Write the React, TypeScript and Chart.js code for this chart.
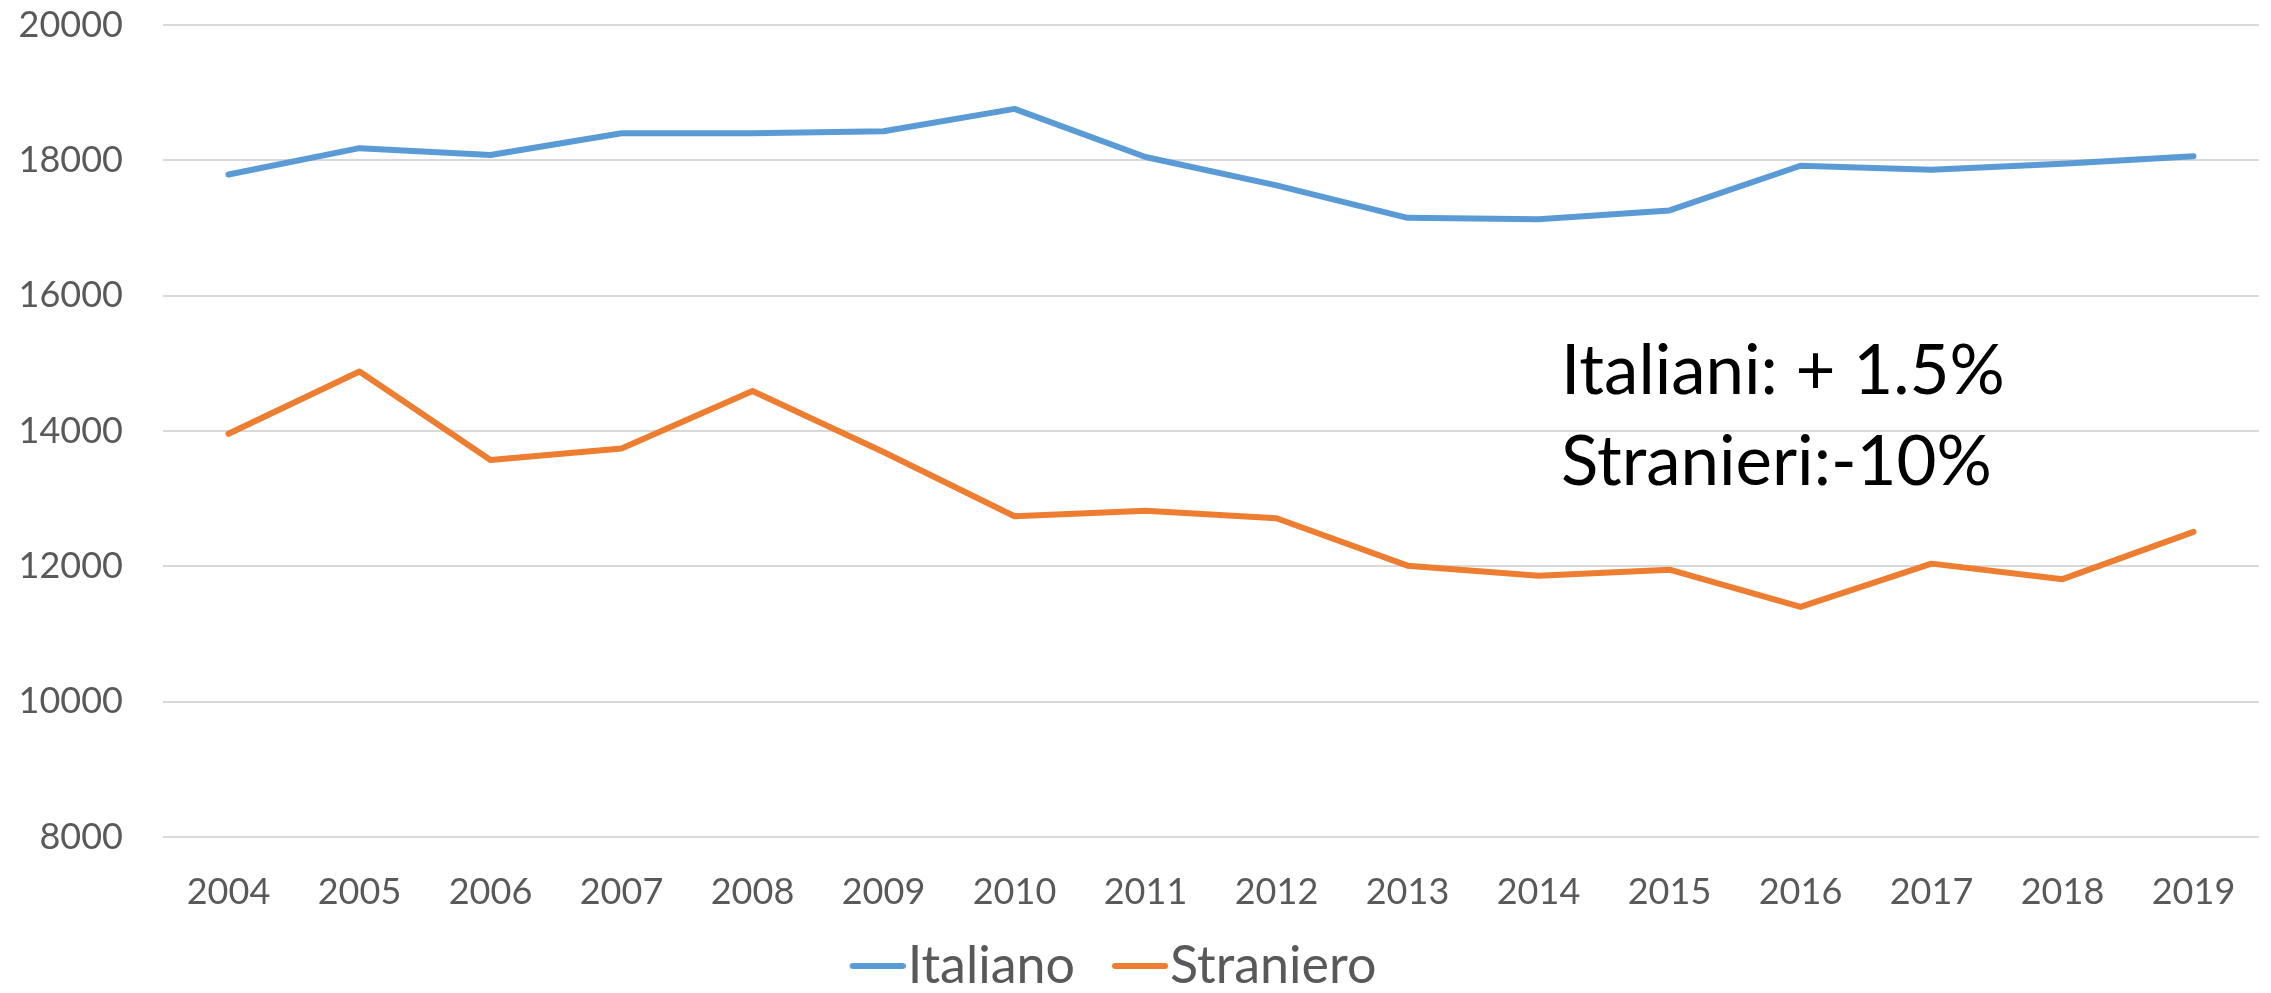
import React, { useEffect, useRef } from "react";
import { Chart, registerables } from "chart.js";

Chart.register(...registerables);

const years = ["2004", "2005", "2006", "2007", "2008", "2009", "2010", "2011", "2012", "2013", "2014", "2015", "2016", "2017", "2018", "2019"];
const italiano = [17790, 18180, 18080, 18400, 18400, 18430, 18760, 18050, 17630, 17150, 17130, 17260, 17920, 17860, 17950, 18060];
const straniero = [13960, 14880, 13570, 13740, 14590, 13690, 12740, 12820, 12710, 12010, 11860, 11950, 11400, 12040, 11810, 12510];
const seriesNames = ["Italiano", "Straniero"];
const seriesColors = ["#5B9BD5", "#ED7D31"];
const annotationLines = ["Italiani: + 1.5%", "Stranieri:-10%"];
const yMin = 8000;
const yMax = 20000;
const yStep = 2000;

const FONT = "Lato, 'Open Sans', sans-serif";

function makeLegendIcon(color: string) {
  const c = document.createElement("canvas");
  c.width = 88;
  c.height = 10;
  const g = c.getContext("2d")!;
  g.strokeStyle = color;
  g.lineWidth = 6;
  g.lineCap = "round";
  g.beginPath();
  g.moveTo(35, 5);
  g.lineTo(85, 5);
  g.stroke();
  return c;
}

const annotationPlugin = {
  id: "noteText",
  afterDatasetsDraw(chart: any) {
    const { ctx, chartArea } = chart;
    const w = chartArea.right - chartArea.left;
    const h = chartArea.bottom - chartArea.top;
    ctx.save();
    ctx.font = `69px ${FONT}`;
    ctx.fillStyle = "#000000";
    ctx.textAlign = "left";
    ctx.textBaseline = "middle";
    const x = chartArea.left + 0.667 * w;
    ctx.fillText(annotationLines[0], x, chartArea.top + 0.4265 * h);
    ctx.fillText(annotationLines[1], x, chartArea.top + 0.5397 * h);
    ctx.restore();
  },
};

export default function App() {
  const canvasRef = useRef<HTMLCanvasElement | null>(null);

  useEffect(() => {
    if (!canvasRef.current) return;
    const icons = seriesColors.map(makeLegendIcon);
    const chart = new Chart(canvasRef.current, {
      type: "line",
      data: {
        labels: years,
        datasets: [
          {
            label: seriesNames[0],
            data: italiano,
            borderColor: seriesColors[0],
            backgroundColor: seriesColors[0],
            borderWidth: 6,
            pointRadius: 0,
            pointHoverRadius: 0,
            tension: 0,
            borderCapStyle: "round",
            borderJoinStyle: "round",
          },
          {
            label: seriesNames[1],
            data: straniero,
            borderColor: seriesColors[1],
            backgroundColor: seriesColors[1],
            borderWidth: 6,
            pointRadius: 0,
            pointHoverRadius: 0,
            tension: 0,
            borderCapStyle: "round",
            borderJoinStyle: "round",
          },
        ],
      },
      options: {
        animation: false,
        responsive: true,
        maintainAspectRatio: false,
        layout: { padding: { top: 25, right: 12, bottom: -9, left: -41 } },
        plugins: {
          tooltip: { enabled: false },
          legend: {
            position: "bottom",
            labels: {
              usePointStyle: true,
              pointStyleWidth: 40,
              color: "#595959",
              font: { family: FONT, size: 52 },
              padding: 29,
              generateLabels: (ch: any) => {
                const items = (Chart as any).defaults.plugins.legend.labels.generateLabels(ch);
                items.forEach((it: any, i: number) => {
                  it.pointStyle = icons[i];
                });
                return items;
              },
            },
          },
        },
        scales: {
          x: {
            offset: true,
            grid: { display: true, color: "rgba(0,0,0,0)", drawTicks: true, tickLength: 34, tickColor: "rgba(0,0,0,0)" },
            border: { display: false },
            ticks: {
              color: "#595959",
              font: { family: FONT, size: 36 },
              padding: 0,
              maxRotation: 0,
              autoSkip: false,
            },
            afterFit(scale: any) {
              scale.height = 74;
            },
          },
          y: {
            min: yMin,
            max: yMax,
            grid: { color: "#D9D9D9", lineWidth: 2, drawTicks: true, tickLength: 40, tickColor: "rgba(0,0,0,0)" },
            border: { display: false },
            ticks: {
              stepSize: yStep,
              color: "#595959",
              font: { family: FONT, size: 36 },
              padding: 0,
              callback: (v: any) => String(v),
            },
            afterFit(scale: any) {
              scale.width = 204;
            },
          },
        },
      },
      plugins: [annotationPlugin],
    } as any);
    return () => chart.destroy();
  }, []);

  return (
    <div style={{ position: "fixed", left: 0, top: 0, width: 2271, height: 993, background: "#ffffff" }}>
      <canvas ref={canvasRef} />
    </div>
  );
}
